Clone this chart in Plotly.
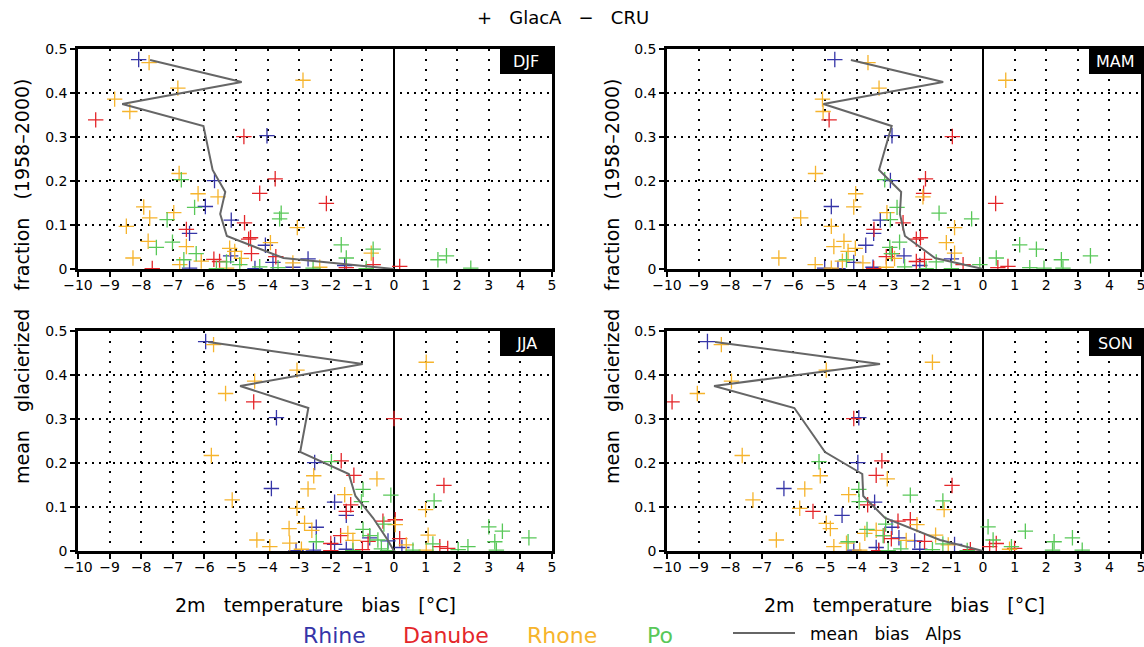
import plotly.graph_objects as go

W, H = 1144, 647

seasons = ["DJF", "MAM", "JJA", "SON"]
x_ticks = list(range(-10, 6))
y_ticks = [0, 0.1, 0.2, 0.3, 0.4, 0.5]
y_ticklabels = ["0", "0.1", "0.2", "0.3", "0.4", "0.5"]

# ---- Rhine catchments: glacier fraction and 2m T bias per season ----
rhine_frac = [0.476, 0.303, 0.201, 0.142, 0.111, 0.081, 0.054, 0.030, 0.023, 0.015, 0.008, 0.004, 0.002, 0.001]
rhine_djf = [-8.08, -4.02, -5.68, -5.97, -5.15, -6.47, -4.07, -5.17, -2.72, -3.83, -1.56, -3.20, -6.47, -4.40]
rhine_mam = [-4.69, -2.88, -2.93, -4.80, -3.25, -3.46, -3.71, -2.50, -1.00, -4.09, -2.00, -3.48, -5.01, -4.59]
rhine_jja = [-5.96, -3.72, -2.51, -3.88, -1.88, -1.51, -2.46, -0.77, -0.19, -1.88, 0.25, -1.51, -2.55, -3.10]
rhine_son = [-8.72, -3.93, -3.96, -6.30, -3.43, -4.46, -2.88, -2.66, -2.16, -0.90, -3.38, -2.00, -4.09, -3.30]

# ---- Danube ----
danube_frac = [0.339, 0.301, 0.205, 0.172, 0.149, 0.105, 0.090, 0.071, 0.068, 0.035, 0.028, 0.022, 0.017, 0.010, 0.006, 0.003, 0.001]
danube_djf = [-9.44, -4.75, -3.76, -4.25, -2.14, -4.73, -6.57, -4.54, -4.60, -4.51, -3.74, -5.70, -5.52, -0.66, 0.18, -1.51, -7.65]
danube_mam = [-4.87, -0.97, -1.82, -1.88, 0.40, -2.53, -3.45, -1.98, -2.11, -2.87, -3.06, -1.85, -2.11, -0.63, 0.79, 0.47, -3.46]
danube_jja = [-4.44, 0.00, -1.67, -1.27, 1.58, -1.37, -1.51, 0.04, -0.35, -1.69, 0.18, -0.82, -2.00, 1.45, 1.70, -1.00, -2.00]
danube_son = [-9.84, -4.09, -3.20, -3.38, -0.98, -3.65, -5.38, -2.30, -2.69, -3.13, -2.90, -1.85, 0.42, 0.21, 1.00, -0.40, -3.30]

# ---- Rhone ----
rhone_frac = [0.469, 0.429, 0.411, 0.386, 0.358, 0.217, 0.171, 0.164, 0.141, 0.128, 0.116, 0.097, 0.094,
              0.063, 0.060, 0.051, 0.047, 0.040, 0.036, 0.025, 0.024, 0.018, 0.014, 0.010, 0.004, 0.002]
rhone_djf = [-7.75, -2.88, -6.84, -8.84, -8.36, -6.80, -6.20, -5.57, -7.92, -6.97, -7.73, -8.47, -3.06,
             -7.78, -3.91, -6.57, -5.20, -5.04, -0.72, -8.26, -4.83, -6.10, -3.20, -6.78, -2.35, -5.30]
rhone_mam = [-3.64, 0.72, -3.29, -5.08, -5.06, -5.30, -4.03, -1.90, -4.09, -3.04, -5.77, -4.80, -0.90,
             -4.40, -1.16, -4.72, -4.04, -4.27, -0.90, -6.46, -2.80, -4.45, -3.80, -5.31, -3.06, -4.80]
rhone_jja = [-5.71, 1.02, -3.07, -4.41, -5.33, -5.78, -2.54, -0.54, -2.72, -1.56, -5.12, -3.07, 1.00,
             -2.83, 0.04, -3.32, -2.60, -1.46, 1.08, -4.34, -1.30, -3.30, 0.39, -3.93, -2.93, 1.02]
rhone_son = [-8.28, -1.60, -4.96, -7.96, -9.04, -7.62, -5.15, -3.03, -5.64, -4.25, -7.28, -5.80, -1.23,
             -4.96, -2.09, -4.83, -3.38, -3.74, -1.50, -6.54, -2.43, -4.32, -1.10, -4.72, 0.84, -3.90]

# ---- Po ----
po_frac = [0.203, 0.140, 0.127, 0.114, 0.112, 0.061, 0.055, 0.049, 0.045, 0.035, 0.030, 0.025, 0.021,
           0.021, 0.016, 0.010, 0.005, 0.003, 0.002, 0.002, 0.001, 0.001]
po_djf = [-6.73, -6.31, -3.57, -3.62, -7.18, -7.01, -1.67, -7.52, -0.66, -6.26, 1.66, -1.51, 1.39,
          -6.65, -5.30, -4.88, -4.25, -3.67, 2.43, -2.56, -5.62, -0.88]
po_mam = [-3.11, -2.72, -1.39, -0.36, -2.93, -2.64, 1.16, -2.95, 1.69, -2.90, 3.40, 0.42, 2.48,
          -4.32, -1.48, -0.10, -2.48, 1.48, 2.53, 1.93, -1.80, -1.00]
po_jja = [-1.98, -0.98, -0.10, 1.27, -1.03, -0.32, 3.00, -0.98, 3.43, -0.77, 4.27, -0.51, 3.19,
          -2.46, 1.23, 2.34, -0.40, 2.03, 3.24, 0.60, -1.30, -0.20]
po_son = [-5.19, -3.93, -2.30, -1.27, -3.92, -3.08, 0.16, -3.67, 1.34, -3.16, 2.83, 0.32, 2.25,
          -4.27, -1.27, 0.90, -2.60, -1.60, 3.14, 2.20, -3.00, -0.50]

# ---- mean bias over the Alps per glacier-fraction bin ----
mean_frac = [0.475, 0.425, 0.375, 0.325, 0.225, 0.175, 0.125, 0.075, 0.025, 0.0]
mean_djf = [-7.72, -4.82, -8.60, -6.03, -5.74, -5.34, -5.50, -5.29, -3.50, 0.0]
mean_mam = [-4.18, -1.26, -5.05, -2.89, -3.29, -2.59, -2.63, -2.47, -1.52, 0.0]
mean_jja = [-5.88, -0.99, -4.87, -2.71, -2.97, -1.43, -1.22, -0.66, -0.20, 0.0]
mean_son = [-8.48, -3.26, -8.51, -5.97, -5.00, -3.82, -3.79, -3.10, -1.36, 0.0]

river_names = ["Rhine", "Danube", "Rhone", "Po"]
river_colors = ["#3535a8", "#e4262a", "#f6b42c", "#58c858"]
river_frac = [rhine_frac, danube_frac, rhone_frac, po_frac]
river_bias = {
    "DJF": [rhine_djf, danube_djf, rhone_djf, po_djf],
    "MAM": [rhine_mam, danube_mam, rhone_mam, po_mam],
    "JJA": [rhine_jja, danube_jja, rhone_jja, po_jja],
    "SON": [rhine_son, danube_son, rhone_son, po_son],
}
mean_bias = {"DJF": mean_djf, "MAM": mean_mam, "JJA": mean_jja, "SON": mean_son}

# panel pixel boxes (left, right, top, bottom)
panels = {
    "DJF": (78, 552, 49, 269),
    "MAM": (667, 1141, 49, 269),
    "JJA": (78, 552, 331, 551),
    "SON": (667, 1141, 331, 551),
}

FONT = "DejaVu Sans"
fig = go.Figure()
layout = dict(
    width=W, height=H, autosize=False,
    margin=dict(l=0, r=0, t=0, b=0, autoexpand=False),
    paper_bgcolor="white", plot_bgcolor="white",
    showlegend=False,
    font=dict(family=FONT, color="black", size=14),
)
shapes = []
annotations = []

for i, s in enumerate(seasons):
    n = "" if i == 0 else str(i + 1)
    xa, ya = "x" + n, "y" + n
    l, r, t, b = panels[s]
    layout["xaxis" + n] = dict(
        domain=[l / W, r / W], anchor=ya, range=[-10, 5], automargin=False,
        tickvals=x_ticks, ticks="outside", ticklen=5, tickwidth=1.5, tickcolor="black",
        ticklabelstandoff=-4, ticklabeloverflow="allow",
        showline=True, linewidth=2.5, linecolor="black", mirror=True,
        showgrid=True, gridcolor="black", gridwidth=1.5, griddash="2px,8px",
        zeroline=True, zerolinecolor="black", zerolinewidth=1.5,
        tickfont=dict(size=14, family=FONT), fixedrange=True,
    )
    layout["yaxis" + n] = dict(
        domain=[1 - b / H, 1 - t / H], anchor=xa, range=[0, 0.5], automargin=False,
        tickvals=y_ticks, ticktext=y_ticklabels, ticks="outside", ticklen=5, tickwidth=1.5,
        tickcolor="black",
        showline=True, linewidth=2.5, linecolor="black", mirror=True,
        showgrid=True, gridcolor="black", gridwidth=1.5, griddash="2px,5px",
        zeroline=False, tickfont=dict(size=14, family=FONT), fixedrange=True,
    )
    for name, col, fr, bias in zip(river_names, river_colors, river_frac, river_bias[s]):
        fig.add_trace(go.Scatter(
            x=bias, y=fr, mode="markers", name=name, xaxis=xa, yaxis=ya,
            marker=dict(symbol="cross-thin", size=11, color=col, line=dict(color=col, width=1.3)),
        ))
    fig.add_trace(go.Scatter(
        x=mean_bias[s], y=mean_frac, mode="lines", name="mean bias Alps", xaxis=xa, yaxis=ya,
        line=dict(color="#666666", width=2),
    ))
    # season label box
    shapes.append(dict(type="rect", xref=xa + " domain", yref=ya + " domain",
                       x0=1 - 52 / 474, x1=1, y0=1 - 25 / 220, y1=1,
                       fillcolor="black", line=dict(width=0)))
    annotations.append(dict(text=s, xref=xa + " domain", yref=ya + " domain",
                            x=1 - 26 / 474, y=1 - 12.5 / 220, showarrow=False,
                            xanchor="center", yanchor="middle",
                            font=dict(color="white", size=16, family=FONT)))

sp3 = "\u00a0\u00a0\u00a0"
xtitle = "2m" + sp3 + "temperature" + sp3 + "bias" + sp3 + "[°C]"
ytitle = "mean" + sp3 + "glacierized" + sp3 + "fraction" + sp3 + "(1958–2000)"
for cx in [(78 + 552) / 2, (667 + 1141) / 2]:
    annotations.append(dict(text=xtitle, xref="paper", yref="paper", x=cx / W, y=1 - 605 / H,
                            showarrow=False, xanchor="center", yanchor="middle",
                            font=dict(size=19, family=FONT)))
for cx in [22, 612]:
    annotations.append(dict(text=ytitle, xref="paper", yref="paper", x=cx / W, y=1 - 282 / H,
                            showarrow=False, xanchor="center", yanchor="middle", textangle=-90,
                            font=dict(size=19, family=FONT)))

annotations.append(dict(text="+" + sp3 + "GlacA" + sp3 + "−" + sp3 + "CRU", xref="paper", yref="paper",
                        x=563 / W, y=1 - 18 / H, showarrow=False, xanchor="center", yanchor="middle",
                        font=dict(size=18, family=FONT)))

legend_x = [334, 446, 562, 660]
for name, col, lx in zip(river_names, river_colors, legend_x):
    annotations.append(dict(text=name, xref="paper", yref="paper", x=lx / W, y=1 - 635 / H,
                            showarrow=False, xanchor="center", yanchor="middle",
                            font=dict(size=22, family=FONT, color=col)))
shapes.append(dict(type="line", xref="paper", yref="paper", x0=733 / W, x1=795 / W,
                   y0=1 - 633 / H, y1=1 - 633 / H, line=dict(color="#666666", width=2)))
annotations.append(dict(text="mean" + sp3 + "bias" + sp3 + "Alps", xref="paper", yref="paper",
                        x=808 / W, y=1 - 634 / H, showarrow=False, xanchor="left", yanchor="middle",
                        font=dict(size=17, family=FONT)))

layout["shapes"] = shapes
layout["annotations"] = annotations
fig.update_layout(**layout)
fig.write_html("out.html", config={"displayModeBar": False},
               post_script="document.body.style.margin='0px';")
